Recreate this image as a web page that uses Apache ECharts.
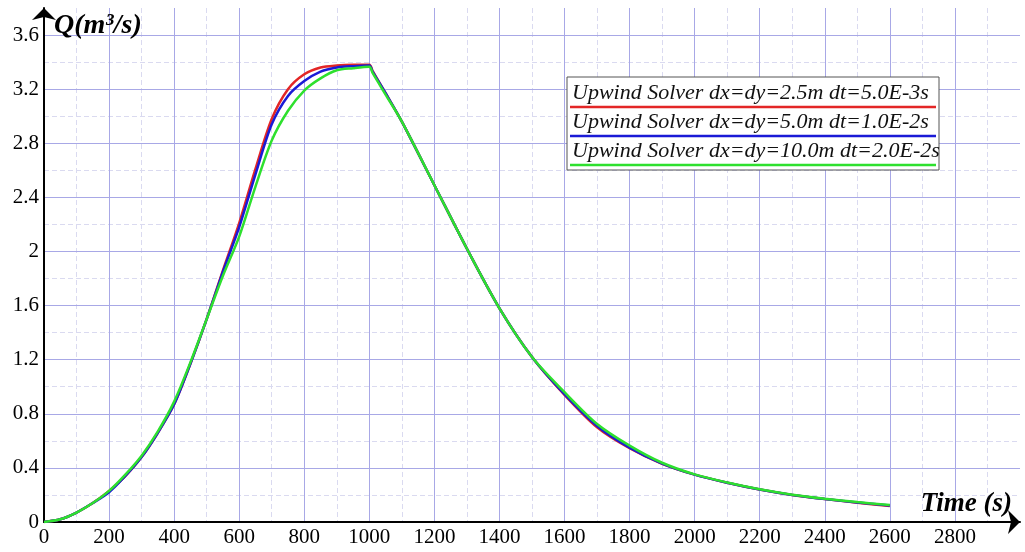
<!DOCTYPE html>
<html>
<head>
<meta charset="UTF-8" />
<title>Discharge</title>
<style>
* { margin: 0; padding: 0; }
html, body { width: 100%; height: 100%; background: #fff; }
#main { width: 1025px; height: 552px; }
</style>
</head>
<body>
<div id="main"></div>
<script src="https://cdn.jsdelivr.net/npm/echarts@6/dist/echarts.min.js"></script>
<script>
// time steps (s)
let times = [0, 50, 100, 150, 200, 250, 300, 350, 400, 450, 500, 550, 600, 650, 700, 750, 800, 850, 900, 950, 1000,
  1010, 1050, 1100, 1200, 1300, 1400, 1500, 1600, 1700, 1800, 1900, 2000, 2100, 2200, 2300, 2400, 2500, 2600]

// discharge Q (m3/s) for each run
let qFine = [0, 0.02, 0.07, 0.14, 0.23, 0.34, 0.48, 0.66, 0.87, 1.17, 1.5, 1.86, 2.21, 2.61, 2.98, 3.2, 3.31, 3.36, 3.375, 3.38, 3.38,
  3.335, 3.17, 2.96, 2.49, 2.02, 1.58, 1.22, 0.94, 0.70, 0.545, 0.43, 0.35, 0.29, 0.24, 0.20, 0.17, 0.143, 0.118]
let qMid = [0, 0.02, 0.07, 0.14, 0.22, 0.34, 0.48, 0.66, 0.87, 1.17, 1.5, 1.85, 2.18, 2.57, 2.94, 3.15, 3.26, 3.33, 3.36, 3.37, 3.375,
  3.33, 3.17, 2.96, 2.49, 2.02, 1.58, 1.22, 0.945, 0.71, 0.55, 0.432, 0.35, 0.29, 0.24, 0.20, 0.17, 0.145, 0.122]
let qCoarse = [0, 0.02, 0.07, 0.14, 0.23, 0.35, 0.49, 0.67, 0.89, 1.18, 1.5, 1.82, 2.11, 2.48, 2.82, 3.04, 3.19, 3.28, 3.34, 3.355, 3.365,
  3.32, 3.16, 2.96, 2.49, 2.02, 1.58, 1.22, 0.96, 0.725, 0.565, 0.438, 0.352, 0.292, 0.242, 0.202, 0.172, 0.147, 0.126]

let names = [
  'Upwind Solver dx=dy=2.5m dt=5.0E-3s',
  'Upwind Solver dx=dy=5.0m dt=1.0E-2s',
  'Upwind Solver dx=dy=10.0m dt=2.0E-2s'
]
let colors = ['#e32626', '#1a1ad6', '#2ee02e']

let serif = 'Liberation Serif'
let majorGrid = '#a8a8e6'
let minorGrid = '#dadaf0'
let chart = echarts.init(document.getElementById('main'))

function pairs(vals) {
  return times.map((t, i) => [t, vals[i]])
}

// legend box drawn by hand: text with a coloured line underneath
let legendItems = [
  { type: 'rect', z: 20, shape: { x: 567, y: 77, width: 372, height: 93 },
    style: { fill: '#fff', stroke: '#555', lineWidth: 1 } }
]
names.forEach((n, i) => {
  legendItems.push({
    type: 'text', z: 21, x: 572, y: 82 + i * 29,
    style: { text: n, font: 'italic 22px ' + serif, fill: '#111' }
  })
  legendItems.push({
    type: 'line', z: 21, shape: { x1: 570, y1: 107 + i * 29, x2: 936, y2: 107 + i * 29 },
    style: { stroke: colors[i], lineWidth: 2.5 }
  })
})

let option = {
  backgroundColor: '#fff',
  animation: false,
  grid: { left: 44, right: 5, top: 8, bottom: 30 },
  xAxis: [
    {
      type: 'value', min: 0, max: 3000, interval: 200, z: 2,
      name: 'Time (s)', nameLocation: 'end', nameGap: -8,
      nameTextStyle: { fontFamily: serif, fontSize: 27, fontWeight: 'bold', fontStyle: 'italic', color: '#000',
        align: 'right', verticalAlign: 'bottom', padding: [0, 0, 4, 0] },
      axisLine: { lineStyle: { color: '#000', width: 2 }, symbol: ['none', 'arrow'], symbolSize: [18, 12] },
      axisTick: { show: false },
      axisLabel: { showMaxLabel: false, fontFamily: serif, fontSize: 21, color: '#000', margin: 5,
        formatter: v => String(v) },
      splitLine: { showMaxLine: false, lineStyle: { color: majorGrid, width: 1 } }
    },
    {
      type: 'value', min: 0, max: 3000, interval: 100, position: 'bottom', z: 0,
      axisLine: { show: false }, axisTick: { show: false }, axisLabel: { show: false },
      splitLine: { showMaxLine: false, lineStyle: { color: minorGrid, width: 1, type: [5, 3] } }
    }
  ],
  yAxis: [
    {
      type: 'value', min: 0, max: 3.8, interval: 0.4, z: 2,
      name: 'Q(m³/s)', nameLocation: 'end', nameGap: -18,
      nameTextStyle: { fontFamily: serif, fontSize: 28, fontWeight: 'bold', fontStyle: 'italic', color: '#000',
        align: 'left', verticalAlign: 'middle', padding: [0, 0, 0, 10] },
      axisLine: { lineStyle: { color: '#000', width: 2 }, symbol: ['none', 'arrow'], symbolSize: [18, 12] },
      axisTick: { show: false },
      axisLabel: { showMaxLabel: false, fontFamily: serif, fontSize: 21, color: '#000', margin: 5,
        formatter: v => +v.toFixed(1) + '' },
      splitLine: { showMaxLine: false, lineStyle: { color: majorGrid, width: 1 } }
    },
    {
      type: 'value', min: 0, max: 3.8, interval: 0.2, position: 'left', z: 0,
      axisLine: { show: false }, axisTick: { show: false }, axisLabel: { show: false },
      splitLine: { showMaxLine: false, lineStyle: { color: minorGrid, width: 1, type: [5, 3] } }
    }
  ],
  series: [qFine, qMid, qCoarse].map((q, i) => ({
    type: 'line', name: names[i], data: pairs(q),
    xAxisIndex: 0, yAxisIndex: 0,
    showSymbol: false, smooth: 0.3, z: 3 + i,
    lineStyle: { color: colors[i], width: 2.5 }, itemStyle: { color: colors[i] }
  })),
  graphic: legendItems
}

chart.setOption(option)
</script>
</body>
</html>
